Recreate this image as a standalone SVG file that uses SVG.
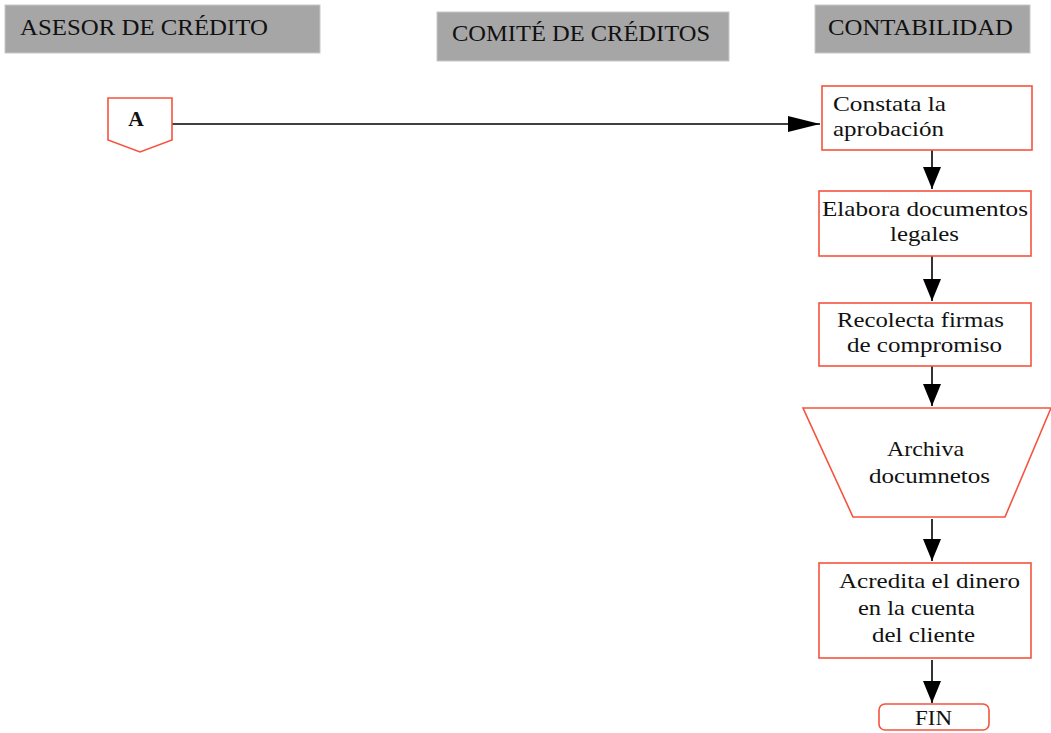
<svg xmlns="http://www.w3.org/2000/svg" width="1051" height="733" viewBox="0 0 1051 733">
<style>
.hdr{fill:#a6a6a6;stroke:#c8c8c8;stroke-width:1}
.ht{font-family:"Liberation Serif","DejaVu Serif",serif;font-size:23px;fill:#111}
.box{fill:#fff;stroke:#f5533d;stroke-width:1.6}
.t{font-family:"Liberation Serif","DejaVu Serif",serif;font-size:21.5px;fill:#111}
.ln{stroke:#000;stroke-width:1.6;fill:none}
</style>
<defs>
<marker id="ah" markerUnits="userSpaceOnUse" markerWidth="22" markerHeight="18" viewBox="0 0 22 18" refX="22" refY="9" orient="auto">
<path d="M0,0 L22,9 L0,18 Z" fill="#000"/>
</marker>
<marker id="ahh" markerUnits="userSpaceOnUse" markerWidth="32" markerHeight="16" viewBox="0 0 32 16" refX="32" refY="8" orient="auto">
<path d="M0,0 L32,8 L0,16 Z" fill="#000"/>
</marker>
</defs>
<rect width="1051" height="733" fill="#fff"/>

<g id="hdr-asesor"><rect class="hdr" x="5" y="5" width="315" height="48"/><text class="ht" x="20" y="35" textLength="248" lengthAdjust="spacingAndGlyphs">ASESOR DE CRÉDITO</text></g>
<g id="hdr-comite"><rect class="hdr" x="437" y="12" width="292" height="49"/><text class="ht" x="452" y="41" textLength="258" lengthAdjust="spacingAndGlyphs">COMITÉ DE CRÉDITOS</text></g>
<g id="hdr-contab"><rect class="hdr" x="815" y="5" width="215" height="48"/><text class="ht" x="828" y="35" textLength="185" lengthAdjust="spacingAndGlyphs">CONTABILIDAD</text></g>

<g id="connectors">
<line class="ln" x1="172" y1="124" x2="820" y2="124" marker-end="url(#ahh)"/>
<path class="ln" d="M932,150 V189" marker-end="url(#ah)"/>
<path class="ln" d="M932,256 V301" marker-end="url(#ah)"/>
<path class="ln" d="M932,366 V406" marker-end="url(#ah)"/>
<path class="ln" d="M932,519 V561" marker-end="url(#ah)"/>
<path class="ln" d="M932,660 V703" marker-end="url(#ah)"/>
</g>

<g id="conn-A"><path class="box" d="M108,98 H172 V140 L140,152 L108,140 Z"/><text class="t" x="136" y="126" text-anchor="middle" font-weight="bold" font-size="19">A</text></g>

<g id="n1"><rect class="box" x="822" y="86" width="210" height="64"/><text class="t" x="833" y="111" textLength="113" lengthAdjust="spacingAndGlyphs">Constata la</text><text class="t" x="833" y="136" textLength="111" lengthAdjust="spacingAndGlyphs">aprobación</text></g>

<g id="n2"><rect class="box" x="819" y="191" width="212" height="65"/><text class="t" x="822" y="216" textLength="206" lengthAdjust="spacingAndGlyphs">Elabora documentos</text><text class="t" x="890" y="241" textLength="69" lengthAdjust="spacingAndGlyphs">legales</text></g>

<g id="n3"><rect class="box" x="819" y="303" width="212" height="63"/><text class="t" x="837" y="327" textLength="167" lengthAdjust="spacingAndGlyphs">Recolecta firmas</text><text class="t" x="847" y="352" textLength="155" lengthAdjust="spacingAndGlyphs">de compromiso</text></g>

<g id="n4"><path class="box" d="M803,408 H1051 L1005,517 H853 Z"/><text class="t" x="887" y="456" textLength="77" lengthAdjust="spacingAndGlyphs">Archiva</text><text class="t" x="869" y="483" textLength="121" lengthAdjust="spacingAndGlyphs">documnetos</text></g>

<g id="n5"><rect class="box" x="819" y="563" width="212" height="95"/><text class="t" x="839" y="588" textLength="181" lengthAdjust="spacingAndGlyphs">Acredita el dinero</text><text class="t" x="858" y="615" textLength="117" lengthAdjust="spacingAndGlyphs">en la cuenta</text><text class="t" x="872" y="642" textLength="103" lengthAdjust="spacingAndGlyphs">del cliente</text></g>

<g id="fin"><rect class="box" x="879" y="704" width="110" height="26" rx="6"/><text class="t" x="915" y="725" textLength="37" lengthAdjust="spacingAndGlyphs">FIN</text></g>
</svg>
